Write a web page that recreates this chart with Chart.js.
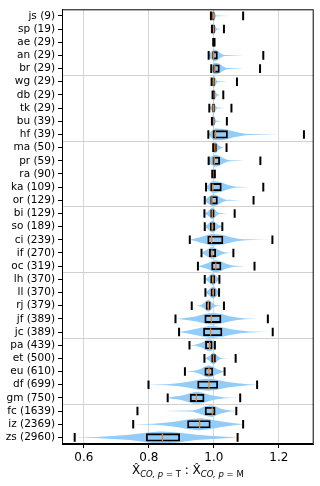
<!DOCTYPE html>
<html>
<head>
<meta charset="utf-8">
<script src="https://cdn.jsdelivr.net/npm/chart.js@4.4.0/dist/chart.umd.min.js"></script>
<style>
  body { margin: 0; background: #fff; }
  #wrap { width: 320px; height: 486px; }
</style>
</head>
<body>
<div id="wrap"><canvas id="graficoRazao"></canvas></div>
<script>
// sites and number of samples per site
const sites = ['js', 'sp', 'ae', 'an', 'br', 'wg', 'db', 'tk', 'bu', 'hf', 'ma', 'pr', 'ra', 'ka', 'or', 'bi', 'so', 'ci', 'if', 'oc', 'lh', 'll', 'rj', 'jf', 'jc', 'pa', 'et', 'eu', 'df', 'gm', 'fc', 'iz', 'zs'];
const nAmostras = [9, 19, 29, 29, 29, 29, 29, 29, 39, 39, 50, 59, 90, 109, 129, 129, 189, 239, 270, 319, 370, 370, 379, 389, 389, 439, 500, 610, 699, 750, 1639, 2369, 2960];

// box plot stats
const capMin = [0.991, 0.994, 0.998, 0.984, 0.992, 0.993, 0.996, 0.986, 0.994, 0.983, 0.998, 0.984, 0.995, 0.976, 0.972, 0.971, 0.972, 0.926, 0.962, 0.951, 0.972, 0.974, 0.932, 0.882, 0.893, 0.925, 0.971, 0.911, 0.799, 0.858, 0.765, 0.752, 0.572];
const quartil1 = [0.996, 0.996, 0.999, 0.996, 0.999, 0.997, 0.997, 0.996, 0.996, 0.997, 0.997, 0.997, 0.998, 0.990, 0.990, 0.990, 0.989, 0.981, 0.986, 0.993, 0.990, 0.991, 0.976, 0.972, 0.968, 0.974, 0.993, 0.972, 0.950, 0.927, 0.973, 0.919, 0.792];
const mediana = [0.998, 0.999, 1.000, 0.999, 1.003, 1.000, 1.000, 0.999, 0.998, 1.005, 1.003, 1.001, 1.000, 0.997, 0.994, 0.995, 0.995, 0.993, 0.994, 1.006, 0.997, 0.998, 0.983, 0.992, 0.990, 0.987, 0.999, 0.985, 0.985, 0.946, 0.995, 0.956, 0.842];
const quartil3 = [1.001, 1.002, 1.001, 1.011, 1.017, 1.003, 1.003, 1.002, 1.001, 1.042, 1.008, 1.018, 1.002, 1.023, 1.011, 1.001, 1.003, 1.028, 1.006, 1.022, 1.003, 1.004, 0.989, 1.022, 1.025, 0.995, 1.005, 0.997, 1.012, 0.970, 1.004, 0.989, 0.895];
const capMax = [1.090, 1.031, 1.002, 1.152, 1.142, 1.071, 1.029, 1.054, 1.040, 1.277, 1.039, 1.143, 1.003, 1.152, 1.122, 1.064, 1.026, 1.180, 1.060, 1.125, 1.017, 1.016, 1.031, 1.166, 1.181, 1.003, 1.067, 1.033, 1.133, 1.081, 1.069, 1.090, 1.073];

const xTicks = [0.6, 0.8, 1.0, 1.2];
const linhasGrupo = [5.5, 10.5, 15.5, 20.5, 25.5, 30.5];

const corViolino = 'rgb(146, 204, 249)';
const larguraViolino = 0.45;

// violin outline (upper or lower edge) built from the box stats
function bordaViolino(i, sinal) {
  const lo = capMin[i], hi = capMax[i], q1 = quartil1[i], q3 = quartil3[i], md = mediana[i];
  const iqr = Math.max(q3 - q1, 0.004);
  const nos = [
    [lo, 0],
    [q1 - 1.5 * iqr, 0.08],
    [q1 - 0.5 * iqr, 0.45],
    [q1, 0.8],
    [md, 1],
    [q3, 0.8],
    [q3 + 0.5 * iqr, 0.45],
    [q3 + 1.5 * iqr, 0.08],
    [hi, 0]
  ];
  const pts = [];
  let ultimo = -Infinity;
  nos.forEach(function(n) {
    if (n[0] > ultimo && n[0] >= lo && n[0] <= hi) {
      pts.push({x: n[0], y: i + 1 + sinal * n[1] * larguraViolino});
      ultimo = n[0];
    }
  });
  return pts;
}

const datasets = [];

// caps
const caps = [];
sites.forEach(function(s, i) {
  caps.push({x: capMin[i], y: i + 1});
  caps.push({x: capMax[i], y: i + 1});
});
datasets.push({
  type: 'scatter',
  data: caps,
  order: 0,
  pointStyle: 'line',
  pointRotation: 90,
  pointRadius: 4.3,
  pointHoverRadius: 4.3,
  pointBorderWidth: 2,
  pointBorderColor: '#000',
  pointBackgroundColor: '#000'
});

// medians
datasets.push({
  type: 'scatter',
  data: sites.map(function(s, i) { return {x: mediana[i], y: i + 1}; }),
  order: 1,
  pointStyle: 'line',
  pointRotation: 90,
  pointRadius: 3.7,
  pointHoverRadius: 3.7,
  pointBorderWidth: 1.3,
  pointBorderColor: '#ff7f0e',
  pointBackgroundColor: '#ff7f0e'
});

// boxes
datasets.push({
  type: 'bar',
  indexAxis: 'y',
  data: sites.map(function(s, i) { return {x: [quartil1[i], quartil3[i]], y: i + 1}; }),
  order: 2,
  barThickness: 7.5,
  backgroundColor: 'rgba(0,0,0,0)',
  borderColor: '#000',
  borderWidth: 1.2,
  borderSkipped: false
});

// violins
sites.forEach(function(s, i) {
  datasets.push({
    type: 'line',
    data: bordaViolino(i, -1),
    order: 4,
    borderColor: 'rgba(0,0,0,0)',
    borderWidth: 0,
    pointRadius: 0,
    cubicInterpolationMode: 'monotone',
    fill: false
  });
  datasets.push({
    type: 'line',
    data: bordaViolino(i, 1),
    order: 4,
    borderColor: 'rgba(0,0,0,0)',
    borderWidth: 0,
    pointRadius: 0,
    cubicInterpolationMode: 'monotone',
    backgroundColor: corViolino,
    fill: '-1'
  });
});

// frame on all four sides
const moldura = {
  id: 'moldura',
  afterDraw: function(chart) {
    const a = chart.chartArea, c = chart.ctx;
    c.save();
    c.strokeStyle = '#000';
    c.lineWidth = 1;
    c.strokeRect(a.left + 0.5, a.top + 0.5, a.right - a.left - 1, a.bottom - a.top - 1);
    c.restore();
  }
};

// x axis title with subscripts
const tituloX = {
  id: 'tituloX',
  afterDraw: function(chart) {
    const a = chart.chartArea, c = chart.ctx;
    const fam = '"DejaVu Sans", sans-serif';
    const partes = [
      {t: 'X\u0302', f: '12px ' + fam, dy: 0},
      {t: 'CO, p', f: 'italic 8.5px ' + fam, dy: 3},
      {t: ' = T', f: '8.5px ' + fam, dy: 3},
      {t: ' : ', f: '12px ' + fam, dy: 0},
      {t: 'X\u0302', f: '12px ' + fam, dy: 0},
      {t: 'CO, p', f: 'italic 8.5px ' + fam, dy: 3},
      {t: ' = M', f: '8.5px ' + fam, dy: 3}
    ];
    c.save();
    c.fillStyle = '#000';
    c.textBaseline = 'alphabetic';
    let total = 0;
    partes.forEach(function(p) { c.font = p.f; p.w = c.measureText(p.t).width; total += p.w; });
    let x = (a.left + a.right) / 2 - total / 2;
    const base = 474;
    partes.forEach(function(p) {
      c.font = p.f;
      c.fillText(p.t, x, base + p.dy);
      x += p.w;
    });
    c.restore();
  }
};

const ctx = document.getElementById('graficoRazao').getContext('2d');

new Chart(ctx, {
  type: 'bar',
  data: { datasets: datasets },
  plugins: [moldura, tituloX],
  options: {
    responsive: true,
    maintainAspectRatio: false,
    animation: false,
    layout: { padding: { top: 3, right: 5, left: 0, bottom: 0 } },
    plugins: {
      legend: { display: false },
      tooltip: { enabled: false }
    },
    scales: {
      x: {
        type: 'linear',
        position: 'bottom',
        min: 0.533,
        max: 1.307,
        offset: false,
        afterBuildTicks: function(axis) {
          axis.ticks = xTicks.map(function(v) { return {value: v}; });
        },
        afterFit: function(axis) { axis.height = 42; },
        ticks: {
          autoSkip: false,
          maxRotation: 0,
          padding: 3,
          color: '#000',
          font: { family: '"DejaVu Sans", sans-serif', size: 12 },
          callback: function(v) { return Number(v).toFixed(1); }
        },
        grid: {
          offset: false,
          color: '#d6d6d6',
          lineWidth: 1,
          tickColor: '#000',
          tickLength: 4
        },
        border: { display: true, color: '#000', width: 1 }
      },
      y: {
        type: 'linear',
        position: 'left',
        reverse: true,
        min: 0.5,
        max: 33.5,
        offset: false,
        afterBuildTicks: function(axis) {
          const t = [];
          sites.forEach(function(s, i) { t.push({value: i + 1}); });
          linhasGrupo.forEach(function(v) { t.push({value: v}); });
          t.sort(function(a, b) { return a.value - b.value; });
          axis.ticks = t;
        },
        afterFit: function(axis) { axis.width = 62; },
        ticks: {
          autoSkip: false,
          padding: 3,
          color: '#000',
          font: { family: '"DejaVu Sans", sans-serif', size: 10.5 },
          callback: function(v) {
            if (!Number.isInteger(v)) return '';
            return sites[v - 1] + ' (' + nAmostras[v - 1] + ')';
          }
        },
        grid: {
          offset: false,
          lineWidth: 1,
          tickLength: 4,
          color: function(c) {
            return (c.tick && !Number.isInteger(c.tick.value)) ? '#d0d0d0' : 'rgba(0,0,0,0)';
          },
          tickColor: function(c) {
            return (c.tick && Number.isInteger(c.tick.value)) ? '#000' : 'rgba(0,0,0,0)';
          }
        },
        border: { display: true, color: '#000', width: 1 }
      }
    }
  }
});
</script>
</body>
</html>
